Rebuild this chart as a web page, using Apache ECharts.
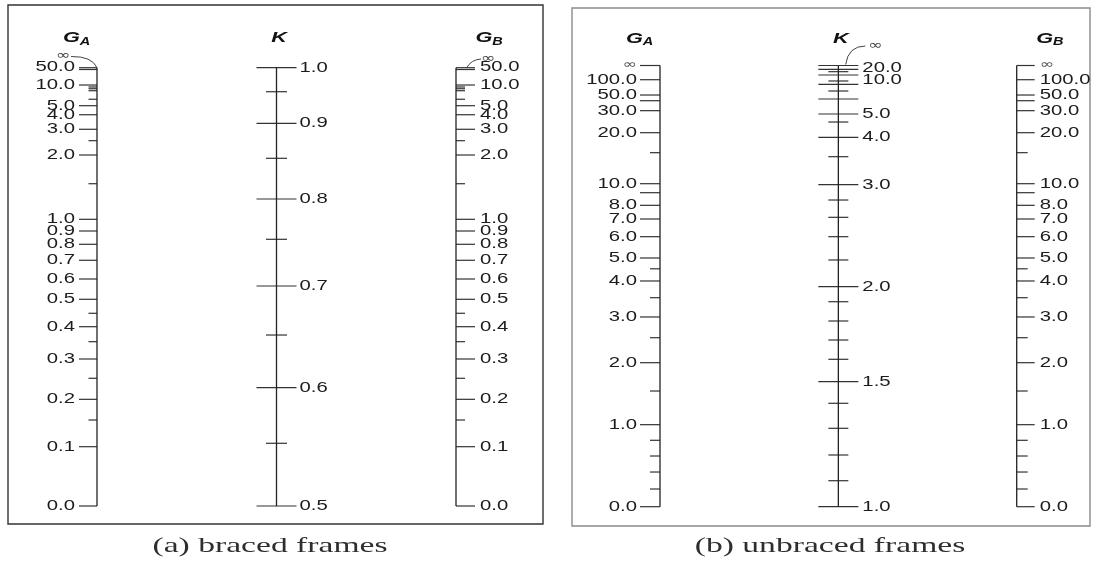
<!DOCTYPE html>
<html>
<head>
<meta charset="utf-8">
<title>Alignment charts for effective length factor K</title>
<script src="https://cdn.jsdelivr.net/npm/echarts@6/dist/echarts.min.js"></script>
<style>
  html, body { margin: 0; padding: 0; background: #fff; }
  #chart { width: 1097px; height: 562px; }
</style>
</head>
<body>
<div id="chart"></div>
<script>
// Graduations of each nomograph scale. "Reading" is the place of a graduation
// along its scale: 0 at the lower end, 1 at the upper end.

// (a) braced frames: G scale, shared by G_A and G_B ('' = unlabeled, the ∞ end)
const bracedGLabels  = ['0.0', '0.1', '0.2', '0.3', '0.4', '0.5', '0.6', '0.7', '0.8', '0.9',
                        '1.0', '2.0', '3.0', '4.0', '5.0', '10.0', '50.0', ''];
const bracedGReading = [0, 0.1353, 0.2434, 0.3354, 0.4091, 0.4716, 0.5179, 0.5606, 0.5971, 0.6274,
                        0.6541, 0.8008, 0.8595, 0.8927, 0.9133, 0.9605, 0.9959, 1];
const bracedGMinorReading = [0.1962, 0.2914, 0.3749, 0.4397, 0.7353, 0.8335, 0.9280, 0.9475, 0.9520, 0.9560];

// (a) braced frames: K scale
const bracedKLabels  = ['0.5', '0.6', '0.7', '0.8', '0.9', '1.0'];
const bracedKReading = [0, 0.2699, 0.5019, 0.7004, 0.8731, 1];
const bracedKMinorReading = [0.1431, 0.3901, 0.6085, 0.7933, 0.9452];

// (b) unbraced frames: G scale, shared by G_A and G_B
const unbracedGLabels  = ['0.0', '1.0', '2.0', '3.0', '4.0', '5.0', '6.0', '7.0', '8.0', '',
                          '10.0', '20.0', '30.0', '', '50.0', '100.0', '∞'];
const unbracedGReading = [0, 0.1859, 0.3264, 0.4300, 0.5116, 0.5637, 0.6120, 0.6521, 0.6831, 0.7117,
                          0.7321, 0.8477, 0.8976, 0.9202, 0.9331, 0.9678, 1];
const unbracedGMinorReading = [0.0401, 0.0786, 0.1149, 0.1505, 0.2622, 0.3830, 0.4737, 0.5392, 0.8024];

// (b) unbraced frames: K scale
const unbracedKLabels  = ['1.0', '1.5', '2.0', '3.0', '4.0', '5.0', '', '', '10.0', '20.0', ''];
const unbracedKReading = [0, 0.2833, 0.4986, 0.7298, 0.8373, 0.8901, 0.9241, 0.9574, 0.9785, 0.9914, 1];
const unbracedKMinorReading = [0.0589, 0.1172, 0.1777, 0.2344, 0.3341, 0.3778, 0.4209, 0.4646, 0.5592,
                               0.6120, 0.6559, 0.6951, 0.7933, 0.8719, 0.9422, 0.9649, 0.9860];

const captions = ['(a) braced frames', '(b) unbraced frames'];

// ---------------------------------------------------------------------------
const INK = '#1c1c1c';
const TICK = '#333';
const STRETCH = 1.45;                 // wide lettering of the chart
const LABEL_FONT = '14px "Liberation Sans", Arial, sans-serif';

function gradData(col, majors, minors) {
  const d = [];
  majors.forEach((r, i) => d.push([col, r, 1, i]));
  minors.forEach((r, i) => d.push([col, r, 0, i]));
  return d;
}

// One scale: ticks on one side (or both) of the spine, with its labels.
function scaleSeries(grid, col, majors, labels, minors, cfg) {
  return {
    type: 'custom',
    xAxisIndex: grid, yAxisIndex: grid,
    clip: false, silent: true,
    data: gradData(col, majors, minors),
    renderItem(params, api) {
      const p = api.coord([api.value(0), api.value(1)]);
      const major = api.value(2) === 1;
      const idx = api.value(3);
      const len = major ? cfg.long : cfg.short;
      let x1, x2;
      if (cfg.side === 'left') { x1 = p[0] - len; x2 = p[0]; }
      else if (cfg.side === 'right') { x1 = p[0]; x2 = p[0] + len; }
      else { x1 = p[0] - len; x2 = p[0] + len; }
      const children = [{
        type: 'line',
        shape: { x1: x1, y1: p[1], x2: x2, y2: p[1] },
        style: { stroke: TICK, lineWidth: 1.2 }
      }];
      const text = major ? labels[idx] : '';
      if (text) {
        const left = cfg.side === 'left';
        const ax = left ? p[0] - cfg.long - cfg.gap : p[0] + cfg.long + cfg.gap;
        const small = text === '∞';
        const nudge = (cfg.nudge && cfg.nudge[text]) || 0;
        children.push({
          type: 'text',
          x: ax, y: p[1] + nudge + (small ? -1 : 0),
          scaleX: STRETCH,
          style: {
            text: text,
            x: 0, y: 0,
            font: small ? '12px "DejaVu Sans", sans-serif' : LABEL_FONT,
            fill: small ? '#555' : INK,
            align: left ? 'right' : 'left', textAlign: left ? 'right' : 'left',
            verticalAlign: 'middle', textVerticalAlign: 'middle'
          }
        });
      }
      return { type: 'group', children: children };
    }
  };
}

function spine(grid, col) {
  return {
    type: 'line', xAxisIndex: grid, yAxisIndex: grid,
    data: [[col, 0], [col, 1]],
    symbol: 'none', silent: true,
    lineStyle: { color: '#222', width: 1.3 }
  };
}

function titleText(x, y, text, size) {
  return {
    type: 'text', x: x, y: y, scaleX: STRETCH,
    style: {
      text: text, x: 0, y: 0,
      font: 'italic bold ' + size + 'px "Liberation Sans", Arial, sans-serif',
      fill: '#111',
      align: 'center', textAlign: 'center',
      verticalAlign: 'middle', textVerticalAlign: 'middle'
    }
  };
}

function infinityMark(x, y) {
  return {
    type: 'text', x: x, y: y, scaleX: 1.3,
    style: {
      text: '∞', x: 0, y: 0, font: '13px "DejaVu Sans", sans-serif', fill: '#444',
      align: 'center', textAlign: 'center', verticalAlign: 'middle', textVerticalAlign: 'middle'
    }
  };
}

function leader(p, a, c, b) {
  return {
    type: 'bezierCurve',
    shape: { x1: p[0] + a[0], y1: p[1] + a[1], cpx1: p[0] + c[0], cpy1: p[1] + c[1],
             x2: p[0] + b[0], y2: p[1] + b[1] },
    style: { stroke: '#444', lineWidth: 1, fill: null }
  };
}

// Scale headings (G_A, K, G_B) and the ∞ leaders at the upper ends.
function headings(grid, titleDy, leaders) {
  const names = [['G', 'A'], ['K', ''], ['G', 'B']];
  return {
    type: 'custom', xAxisIndex: grid, yAxisIndex: grid,
    clip: false, silent: true,
    data: [[0, 1], [1, 1], [2, 1]],
    renderItem(params, api) {
      const col = api.value(0);
      const p = api.coord([col, 1]);
      const n = names[col];
      const children = [];
      if (n[1]) {
        const dx = col === 0 ? -25.5 : 28;
        children.push(titleText(p[0] + dx, p[1] + titleDy, n[0], 15));
        children.push(titleText(p[0] + dx + 13.5, p[1] + titleDy + 4, n[1], 10));
      } else {
        children.push(titleText(p[0] + 2.5, p[1] + titleDy, n[0], 15));
      }
      const l = leaders[col];
      if (l) {
        children.push(leader(p, l.a, l.c, l.b));
        children.push(infinityMark(p[0] + l.inf[0], p[1] + l.inf[1]));
      }
      return { type: 'group', children: children };
    }
  };
}

const captionStyle = (text) => ({
  text: text, font: '21px "Liberation Serif", serif', fill: '#2e2e2e',
  align: 'center', textAlign: 'center', verticalAlign: 'middle', textVerticalAlign: 'middle'
});

const option = {
  animation: false,
  backgroundColor: '#fff',
  grid: [
    { left: 97, top: 67.7, width: 359, height: 438.3 },
    { left: 660, top: 65.5, width: 356.7, height: 441.2 }
  ],
  xAxis: [
    { type: 'value', gridIndex: 0, min: 0, max: 2, show: false },
    { type: 'value', gridIndex: 1, min: 0, max: 2, show: false }
  ],
  yAxis: [
    { type: 'value', gridIndex: 0, min: 0, max: 1, show: false },
    { type: 'value', gridIndex: 1, min: 0, max: 1, show: false }
  ],
  graphic: [
    { type: 'rect', shape: { x: 8, y: 5, width: 535, height: 519 },
      style: { fill: 'transparent', stroke: '#333', lineWidth: 1.4 }, silent: true },
    { type: 'rect', shape: { x: 572, y: 8, width: 518, height: 518 },
      style: { fill: 'transparent', stroke: '#8a8a8a', lineWidth: 1.4 }, silent: true },
    { type: 'text', x: 270, y: 546, scaleX: 1.6, style: captionStyle(captions[0]) },
    { type: 'text', x: 830, y: 546, scaleX: 1.6, style: captionStyle(captions[1]) }
  ],
  series: [
    // (a) braced frames
    spine(0, 0), spine(0, 1), spine(0, 2),
    scaleSeries(0, 0, bracedGReading, bracedGLabels, bracedGMinorReading,
                { side: 'left', long: 18, short: 8.5, gap: 4, nudge: { '50.0': -2 } }),
    scaleSeries(0, 1, bracedKReading, bracedKLabels, bracedKMinorReading,
                { side: 'both', long: 20, short: 10.5, gap: 3 }),
    scaleSeries(0, 2, bracedGReading, bracedGLabels, bracedGMinorReading,
                { side: 'right', long: 19, short: 9, gap: 5, nudge: { '50.0': -2 } }),
    headings(0, -29.5, [
      { a: [-26, -11.2], c: [-5, -11.5], b: [0, 0], inf: [-34, -11.7] },
      null,
      { a: [10.5, 0.3], c: [15, -8], b: [25, -8.7], inf: [32, -9.2] }
    ]),
    // (b) unbraced frames
    spine(1, 0), spine(1, 1), spine(1, 2),
    scaleSeries(1, 0, unbracedGReading, unbracedGLabels, unbracedGMinorReading,
                { side: 'left', long: 20, short: 10, gap: 3 }),
    scaleSeries(1, 1, unbracedKReading, unbracedKLabels, unbracedKMinorReading,
                { side: 'both', long: 20, short: 10, gap: 4, nudge: { '10.0': 5, '20.0': -1.5 } }),
    scaleSeries(1, 2, unbracedGReading, unbracedGLabels, unbracedGMinorReading,
                { side: 'right', long: 18, short: 11, gap: 5 }),
    headings(1, -27, [
      null,
      { a: [7.3, -1], c: [10, -19.5], b: [27, -19.5], inf: [37, -19.5] },
      null
    ])
  ]
};

const chart = echarts.init(document.getElementById('chart'), null, { renderer: 'canvas' });
chart.setOption(option);
</script>
</body>
</html>
